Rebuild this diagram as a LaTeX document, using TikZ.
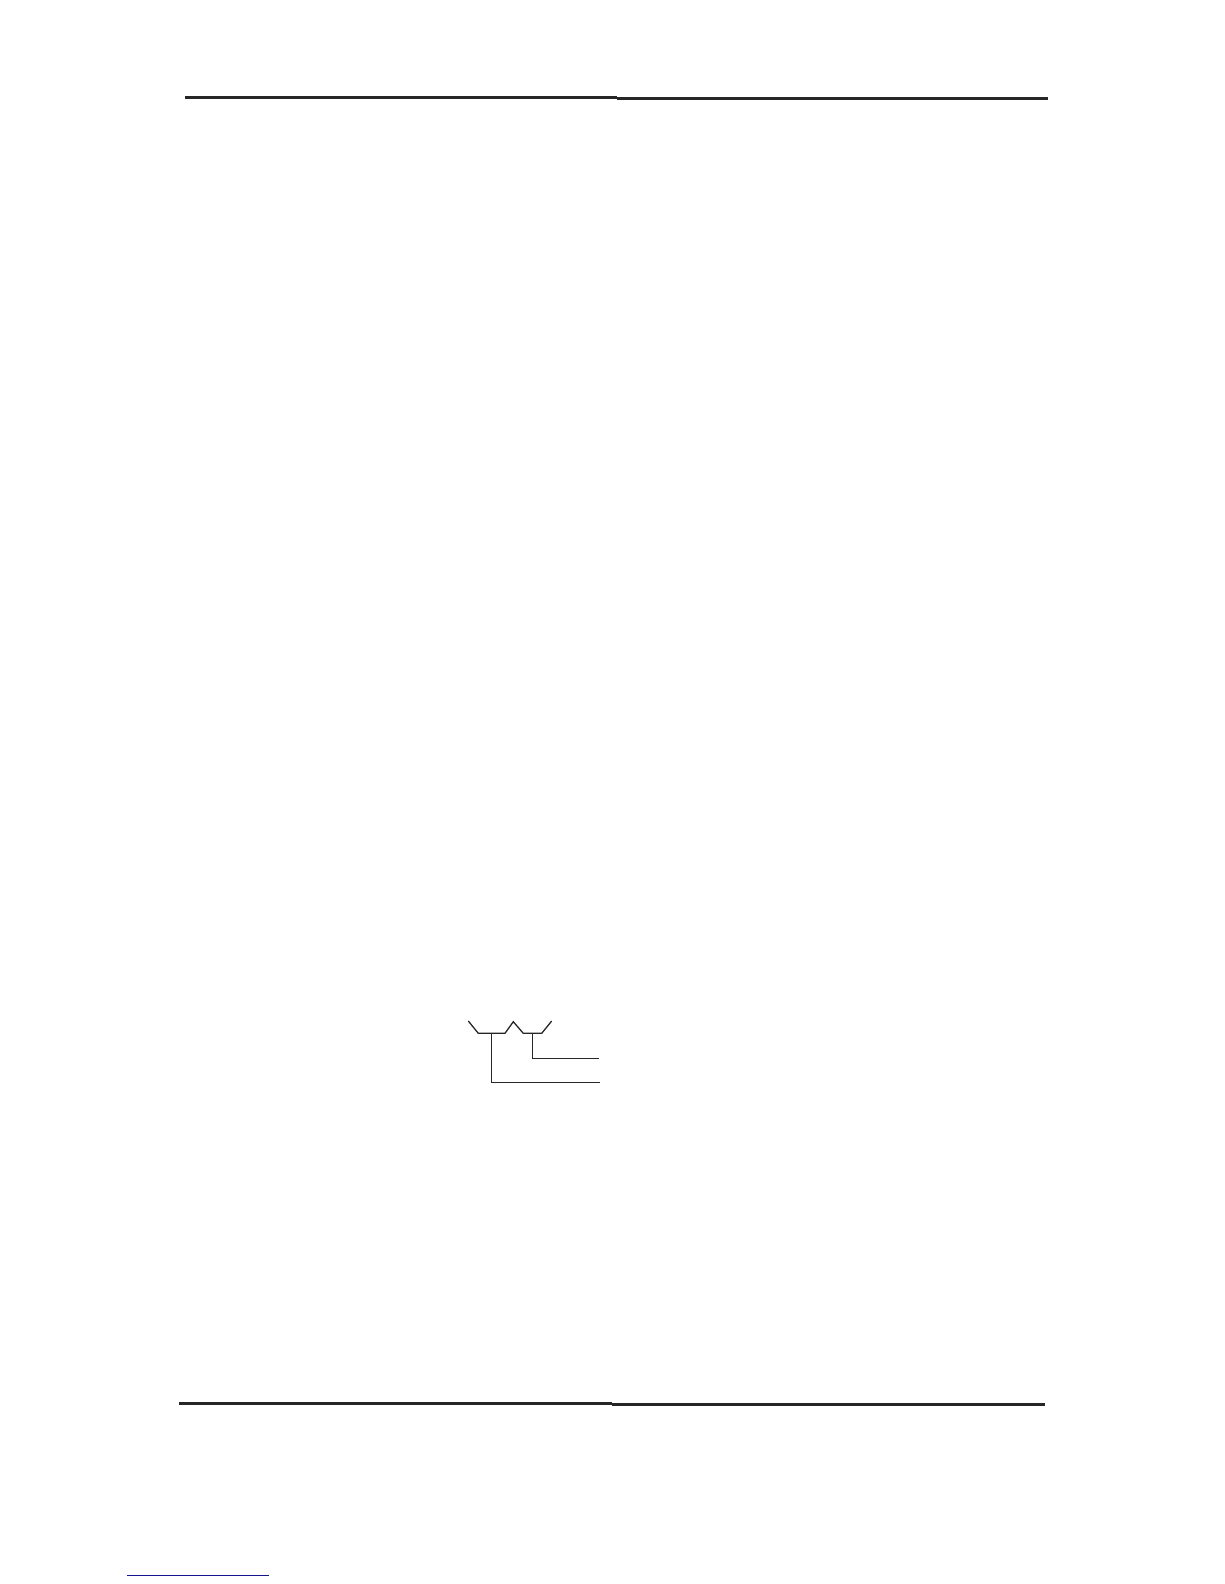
\documentclass[tikz,border=0pt]{standalone}
\begin{document}
\begin{tikzpicture}[x=1pt,y=-1pt,
  rule/.style={line width=2.2pt,black!85},
  wire/.style={line width=1.3pt,black!85},
  link/.style={line width=1pt,draw={rgb,255:red,20;green,20;blue,140}}]
\useasboundingbox (0,0) rectangle (1224,1584);
% header rule
\coordinate (h1) at (185,97.5);
\coordinate (h2) at (617,97.5);
\coordinate (h3) at (617,98.5);
\coordinate (h4) at (1048,98.5);
\draw[rule] (h1) -- (h2);
\draw[rule] (h3) -- (h4);
% footer rule
\coordinate (f1) at (179,1403.5);
\coordinate (f2) at (612,1403.5);
\coordinate (f3) at (612,1404.5);
\coordinate (f4) at (1045,1404.5);
\draw[rule] (f1) -- (f2);
\draw[rule] (f3) -- (f4);
% small diagram
\coordinate (a) at (468.3,1021);
\coordinate (b) at (478.3,1033.3);
\coordinate (c) at (505,1033.3);
\coordinate (d) at (513.3,1021.7);
\coordinate (e) at (523.3,1033.3);
\coordinate (f) at (541.7,1033.3);
\coordinate (g) at (551.7,1021);
\coordinate (p) at (491.7,1033.3);
\coordinate (p2) at (491.7,1082.3);
\coordinate (p3) at (600,1082.3);
\coordinate (q) at (532.7,1033.3);
\coordinate (q2) at (532.7,1058.3);
\coordinate (q3) at (599,1058.3);
\draw[wire] (a) -- (b) -- (c) -- (d) -- (e) -- (f) -- (g);
\draw[wire] (p) -- (p2) -- (p3);
\draw[wire] (q) -- (q2) -- (q3);
% blue link line
\coordinate (l1) at (127,1575);
\coordinate (l2) at (269,1575);
\draw[link] (l1) -- (l2);
\end{tikzpicture}
\end{document}
